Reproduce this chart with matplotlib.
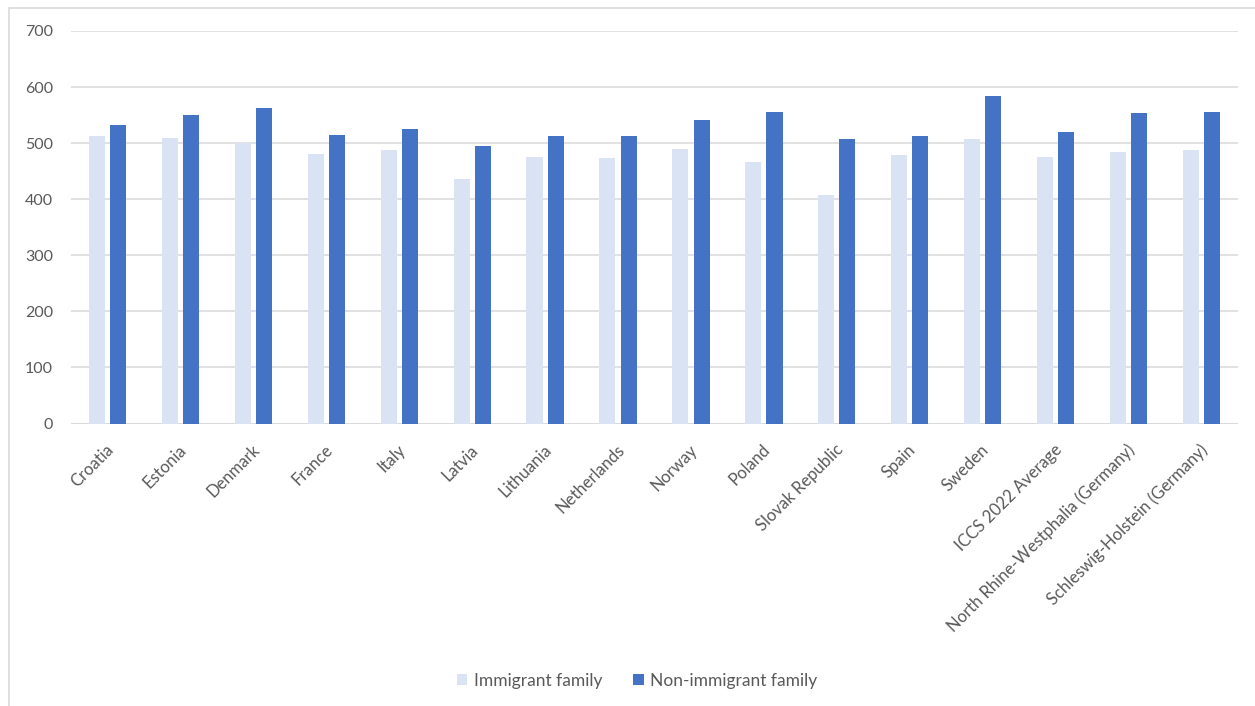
import numpy as np
import matplotlib.pyplot as plt
import matplotlib.transforms as mtransforms
from matplotlib.patches import Rectangle

# values
countries = ["Croatia", "Estonia", "Denmark", "France", "Italy", "Latvia",
             "Lithuania", "Netherlands", "Norway", "Poland", "Slovak Republic",
             "Spain", "Sweden", "ICCS 2022 Average",
             "North Rhine-Westphalia (Germany)", "Schleswig-Holstein (Germany)"]
immigrant = [512, 509, 501, 481, 487, 436, 475, 473, 490, 467, 407, 478, 507,
             475, 484, 487]
non_immigrant = [532, 551, 563, 515, 526, 495, 512, 512, 541, 555, 508, 512,
                 584, 519, 553, 555]
y_ticks = [0, 100, 200, 300, 400, 500, 600, 700]

light_blue = "#DAE3F3"
dark_blue = "#4472C4"
grey_text = "#595959"

plt.rcParams['font.family'] = ['Lato', 'DejaVu Sans']

fig = plt.figure(figsize=(12.55, 7.06), dpi=100)
# light frame around the chart area
fig.patches.append(Rectangle((9 / 1255, -0.1), 1.2, 1 - 8 / 706 + 0.1,
                             transform=fig.transFigure, fill=False,
                             edgecolor="#d9d9d9", linewidth=1.2))

ax = fig.add_axes([71 / 1255, 1 - 423.5 / 706, (1238 - 71) / 1255,
                   (423.5 - 31) / 706])

x = np.arange(len(countries))
bar_w = 0.22
shift = 0.145
ax.bar(x - shift, immigrant, width=bar_w, color=light_blue,
       label="Immigrant family", zorder=3)
ax.bar(x + shift, non_immigrant, width=bar_w, color=dark_blue,
       label="Non-immigrant family", zorder=3)

ax.set_xlim(-0.5, len(countries) - 0.5)
ax.set_ylim(0, 700)
ax.set_yticks(y_ticks)
ax.yaxis.grid(True, color="#d9d9d9", linewidth=1.1, zorder=0)
ax.set_axisbelow(True)
for side in ["top", "right", "left", "bottom"]:
    ax.spines[side].set_visible(False)
ax.axhline(0, color="#d9d9d9", linewidth=1.1, zorder=1)

ax.tick_params(axis="y", length=0, pad=13, labelsize=11.5, labelcolor=grey_text)
ax.tick_params(axis="x", length=0, pad=13, labelsize=12, labelcolor=grey_text)
ax.set_xticks(x)
ax.set_xticklabels(countries, rotation=45, ha="right", rotation_mode="anchor")
offset = mtransforms.ScaledTranslation(-2 / 100, 0, fig.dpi_scale_trans)
for lbl in ax.get_xticklabels():
    lbl.set_transform(lbl.get_transform() + offset)

fig.legend(loc="center", bbox_to_anchor=(637 / 1255, 1 - 681 / 706), ncol=2,
           frameon=False, fontsize=12.5, labelcolor=grey_text,
           handlelength=0.6, handleheight=0.6, handletextpad=0.35,
           columnspacing=1.8)

fig.savefig("out.png", dpi=100, facecolor="white")
